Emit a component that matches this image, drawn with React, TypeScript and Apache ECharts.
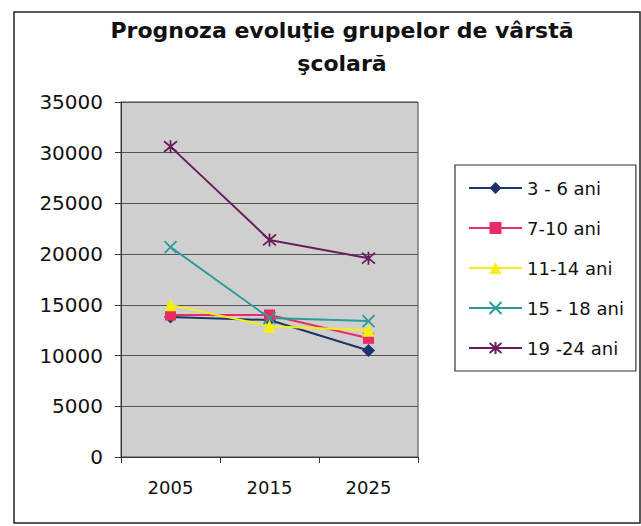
import React, { useEffect, useRef } from "react";
import * as echarts from "echarts";

const years = ["2005", "2015", "2025"];
const seriesNames = ["3 - 6 ani", "7-10 ani", "11-14 ani", "15 - 18 ani", "19 -24 ani"];
const age3to6 = [13800, 13500, 10500];
const age7to10 = [14000, 14000, 11700];
const age11to14 = [15000, 12900, 12500];
const age15to18 = [20700, 13700, 13400];
const age19to24 = [30600, 21400, 19600];
const yTicks = [0, 5000, 10000, 15000, 20000, 25000, 30000, 35000];

const FONT = '"DejaVu Sans", Arial, sans-serif';

export default function App() {
  const ref = useRef<HTMLDivElement>(null);
  useEffect(() => {
    if (!ref.current) return;
    const chart = echarts.init(ref.current, null, { renderer: "svg" });
    const xPath = "path://M0,0L10,10M10,0L0,10";
    const starPath = "path://M0,0L10,10M10,0L0,10M5,-1L5,11";
    const mk = (name: string, data: number[], color: string, symbol: string, size: number, stroke: boolean) => ({
      name,
      type: "line",
      data,
      symbol,
      symbolSize: size,
      lineStyle: { color, width: 2 },
      itemStyle: stroke
        ? { color, borderColor: color, borderWidth: 1.8 }
        : { color, borderWidth: 0 },
      emphasis: { disabled: true },
    });
    chart.setOption({
      animation: false,
      backgroundColor: "#ffffff",
      textStyle: { fontFamily: FONT },
      graphic: [
        {
          type: "rect",
          shape: { x: 14, y: 12, width: 626, height: 511 },
          style: { fill: "none", stroke: "#222", lineWidth: 1.5 },
          z: -1,
        },
        {
          type: "text",
          x: 342,
          y: 30,
          style: {
            text: "Prognoza evoluţie grupelor de vârstă",
            font: `bold 22px ${FONT}`,
            fill: "#111",
            textAlign: "center",
            textVerticalAlign: "middle",
          },
        },
        {
          type: "text",
          x: 342,
          y: 63,
          style: {
            text: "şcolară",
            font: `bold 22px ${FONT}`,
            fill: "#111",
            textAlign: "center",
            textVerticalAlign: "middle",
          },
        },
      ],
      grid: {
        left: 121,
        top: 102,
        right: 223,
        bottom: 69,
        show: true,
        backgroundColor: "#cfcfcf",
        borderColor: "#444",
        borderWidth: 1,
      },
      legend: {
        orient: "vertical",
        left: 455,
        top: 165,
        data: seriesNames,
        itemWidth: 53,
        itemHeight: 15,
        itemGap: 20,
        padding: [13, 12, 13, 13],
        borderColor: "#333",
        borderWidth: 1.2,
        backgroundColor: "#fff",
        textStyle: { fontSize: 18, color: "#111", fontFamily: FONT, lineHeight: 20 },
      },
      xAxis: {
        type: "category",
        data: years,
        boundaryGap: true,
        axisLine: { lineStyle: { color: "#333", width: 1 } },
        axisTick: { show: true, length: 6, lineStyle: { color: "#333" } },
        axisLabel: { fontSize: 18, color: "#111", margin: 21, fontFamily: FONT },
        splitLine: { show: false },
      },
      yAxis: {
        type: "value",
        min: yTicks[0],
        max: yTicks[yTicks.length - 1],
        interval: 5000,
        axisLine: { show: true, lineStyle: { color: "#333", width: 1 } },
        axisTick: { show: true, length: 6, lineStyle: { color: "#333" } },
        axisLabel: {
          fontSize: 20,
          color: "#111",
          margin: 18,
          fontFamily: FONT,
          formatter: (v: number) => String(v),
        },
        splitLine: { show: true, lineStyle: { color: "#555", width: 1 } },
      },
      series: [
        mk(seriesNames[0], age3to6, "#1c3468", "diamond", 13, false),
        mk(seriesNames[1], age7to10, "#e82c66", "rect", 11, false),
        mk(seriesNames[2], age11to14, "#f6ee10", "triangle", 13, false),
        mk(seriesNames[3], age15to18, "#2a9c9c", xPath, 12, true),
        mk(seriesNames[4], age19to24, "#6a1d5c", starPath, 13, true),
      ],
    });
    return () => chart.dispose();
  }, []);
  return (
    <div
      ref={ref}
      style={{ position: "absolute", left: 0, top: 0, width: 641, height: 526 }}
    />
  );
}
